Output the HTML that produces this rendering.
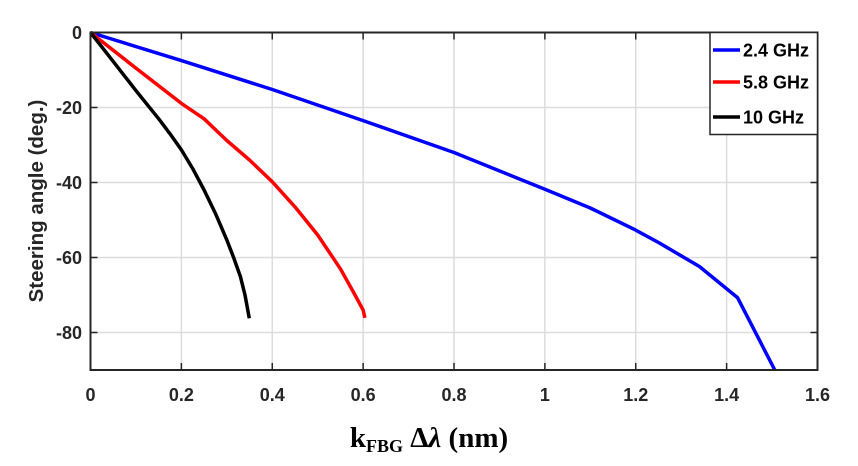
<!DOCTYPE html>
<html><head><meta charset="utf-8"><style>
html,body{margin:0;padding:0;background:#fff;}
svg{display:block;}
text{font-family:"Liberation Sans",Arial,sans-serif;font-weight:bold;fill:#262626;}
</style></head><body>
<svg id="chart" width="858" height="466">
<g id="grid"></g>
<g id="series"></g>
<rect x="90.5" y="32.5" width="727" height="337.5" fill="none" stroke="#262626" stroke-width="2"/>
<g id="ticks"></g>
<text x="0" y="0" transform="translate(43,201) rotate(-90)" text-anchor="middle" font-size="20.5">Steering angle (deg.)</text>
<text x="429" y="447" text-anchor="middle" style="font-family:'Liberation Serif',serif;font-size:29px;fill:#000">k<tspan font-size="18" dy="5">FBG</tspan><tspan dy="-5"> Δ</tspan><tspan font-style="italic">λ</tspan> (nm)</text>
<g id="legend">
<rect x="710" y="32.5" width="107.5" height="102" fill="#fff" stroke="#262626" stroke-width="1.5"/>
</g>
</svg>
<script>
const xTicks=[0,0.2,0.4,0.6,0.8,1,1.2,1.4,1.6];
const xTickLabels=["0","0.2","0.4","0.6","0.8","1","1.2","1.4","1.6"];
const yTicks=[0,-20,-40,-60,-80];
const yTickLabels=["0","-20","-40","-60","-80"];
const seriesNames=["2.4 GHz","5.8 GHz","10 GHz"];
const seriesColors=["#0000ff","#ff0000","#000000"];
const blueX=[0,0.2,0.4,0.6,0.8,1.0,1.1,1.2,1.25,1.34,1.424,1.506];
const blueY=[0,-7.5,-15.2,-23.5,-32,-41.8,-46.8,-52.7,-56,-62.4,-70.7,-90];
const redX=[0,0.1,0.2,0.25,0.3,0.35,0.4,0.45,0.5,0.55,0.58,0.6,0.604];
const redY=[0,-9.5,-18.9,-23,-28.8,-34,-39.8,-46.5,-54,-63,-69.5,-74,-76.1];
const blackX=[0,0.05,0.1,0.15,0.175,0.2,0.225,0.25,0.275,0.3,0.315,0.33,0.34,0.3495];
const blackY=[0,-7.7,-15.5,-23,-27,-31.3,-36.3,-42,-48.3,-55.3,-60,-65.1,-70,-76.2];
const ns="http://www.w3.org/2000/svg";
const X0=90.5,X1=817.5,Y0=32.5,Y1=370;
const xs=v=>X0+(v-0)/(1.6-0)*(X1-X0);
const ys=v=>Y0+(0-v)/(0-(-90))*(Y1-Y0);
function mk(tag,attrs,parent){const e=document.createElementNS(ns,tag);for(const k in attrs)e.setAttribute(k,attrs[k]);parent.appendChild(e);return e;}
const grid=document.getElementById('grid'),ticks=document.getElementById('ticks'),ser=document.getElementById('series'),leg=document.getElementById('legend');
xTicks.forEach((t,i)=>{
 const x=xs(t);
 if(i>0&&i<xTicks.length-1){const g=mk('line',{x1:x,x2:x,y1:Y0,y2:Y1,stroke:'#dcdcdc','stroke-width':1.5},grid);
 
 }
 const a=mk('line',{x1:x,x2:x,y1:Y1,y2:Y1-7,stroke:'#262626','stroke-width':1.5},ticks);
 
 
 const b=mk('line',{x1:x,x2:x,y1:Y0,y2:Y0+7,stroke:'#262626','stroke-width':1.5},ticks);
 
 
 const l=mk('text',{x:x,y:401,'text-anchor':'middle','font-size':18},ticks);l.textContent=xTickLabels[i];
 
 
});
yTicks.forEach((t,i)=>{
 const y=ys(t);
 if(i>0){const g=mk('line',{x1:X0,x2:X1,y1:y,y2:y,stroke:'#dcdcdc','stroke-width':1.5},grid);
 
 }
 const a=mk('line',{x1:X0,x2:X0+7,y1:y,y2:y,stroke:'#262626','stroke-width':1.5},ticks);
 
 
 const b=mk('line',{x1:X1,x2:X1-7,y1:y,y2:y,stroke:'#262626','stroke-width':1.5},ticks);
 
 
 const l=mk('text',{x:82,y:y+6.5,'text-anchor':'end','font-size':18},ticks);l.textContent=yTickLabels[i];
 
 
});
const all=[[blueX,blueY],[redX,redY],[blackX,blackY]];
const lineNames=['series-2-4-ghz','series-5-8-ghz','series-10-ghz'];
all.forEach((s,i)=>{
 const pts=s[0].map((v,j)=>xs(v).toFixed(1)+','+ys(s[1][j]).toFixed(1)).join(' ');
 const p=mk('polyline',{points:pts,fill:'none',stroke:seriesColors[i],'stroke-width':3.5,'stroke-linejoin':'round'},ser);
 
 
});
const legY=[50,82,117];
seriesNames.forEach((n,i)=>{
 const l=mk('line',{x1:713,x2:740,y1:legY[i],y2:legY[i],stroke:seriesColors[i],'stroke-width':3.5},leg);
 
 
 const t=mk('text',{x:743,y:legY[i]+6.5,'font-size':18,style:'fill:#000'},leg);t.textContent=n;
 
 
});
</script>
</body></html>
